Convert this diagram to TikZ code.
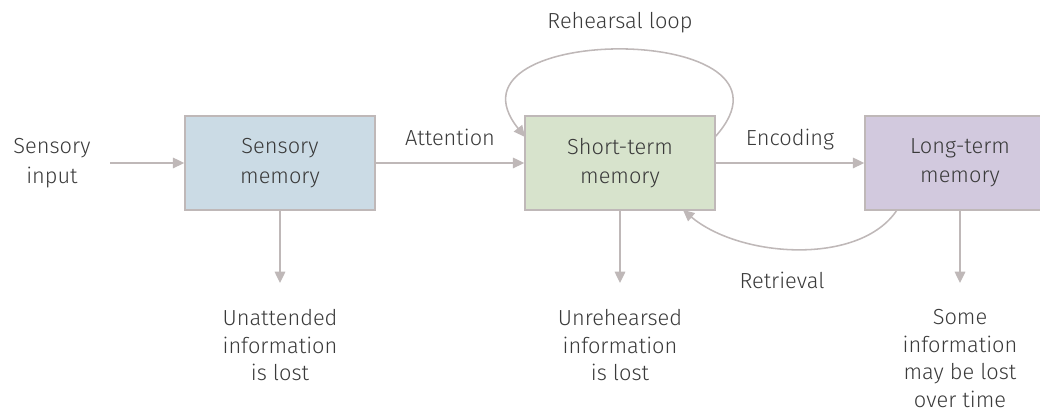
\documentclass[tikz,border=0pt]{standalone}
\usepackage{fontspec}
\setmainfont{Fira Sans}[UprightFont={* Light}]
\usetikzlibrary{arrows.meta}
\definecolor{sensblue}{HTML}{CBDBE5}
\definecolor{stmgreen}{HTML}{D7E3CC}
\definecolor{ltmlilac}{HTML}{D2C9DE}
\definecolor{edge}{HTML}{BFB8B8}
\definecolor{ink}{HTML}{3A3A3A}
\tikzset{
        flow/.style={
            draw=edge,line width=1.1pt,
            -{Triangle[length=8pt,width=7.5pt]},
        },
    }
\begin{document}
\begin{tikzpicture}[x=0.025cm,y=0.025cm,
          store/.style = {draw=edge,line width=1.1pt,minimum width=4.75cm,minimum height=2.35cm,align=center,text=ink,font=\fontsize{15.5}{21}\selectfont},
          txt/.style = {align=center,text=ink,font=\fontsize{15.5}{21}\selectfont},
          lost/.style = {txt,anchor=north,inner ysep=1pt,font=\fontsize{15.5}{19.5}\selectfont}
          ]
 \clip (0,0) rectangle (1040,411);
          \node[store,fill=sensblue] (@sm) at (280,248) {Sensory\\memory};
          \node[store,fill=stmgreen] (@stm) at (620,248) {Short-term\\memory};
          \node[store,fill=ltmlilac] (@ltm) at (960,248) {Long-term\\memory};
          \node[txt] (@in) at (52,248) {Sensory\\input};
          \coordinate (@inend) at (110,248);
          %\draw[flow] (@in) -- (@sm);
          \draw[flow] (@inend) -- (@sm);
          \draw[flow] (@sm) -- node[txt,above=6pt,text depth=.25em] (@att) {Attention} (@stm);
          \draw[flow] (@stm) -- node[txt,above=6pt,text depth=.25em] (@enc) {Encoding} (@ltm);
          % loop and retrieval
          \coordinate (@rs) at (715,274);
          \coordinate (@re) at (525,274);
          \draw[flow] (@rs) .. controls (820,390) and (432,390) .. (@re);
          \node[txt] (@reh) at (620,388) {Rehearsal loop};
          \coordinate (@ts) at (897,201);
          \coordinate (@te) at (683,201);
          \draw[flow] (@ts) .. controls (860,145) and (740,153) .. (@te);
          \node[txt] (@ret) at (782,131) {Retrieval};
          % what is lost
          \coordinate (@smd) at (280,128);
          \coordinate (@stmd) at (620,128);
          \coordinate (@ltmd) at (960,128);
          \draw[flow] (@sm) -- (@smd);
          \draw[flow] (@stm) -- (@stmd);
          \draw[flow] (@ltm) -- (@ltmd);
          \node[lost] (@smlost) at (280,103) {Unattended\\information\\is lost};
          \node[lost] (@stmlost) at (620,103) {Unrehearsed\\information\\is lost};
          \node[lost] (@ltmlost) at (960,103) {Some\\information\\may be lost\\over time};
        \end{tikzpicture}
\end{document}
